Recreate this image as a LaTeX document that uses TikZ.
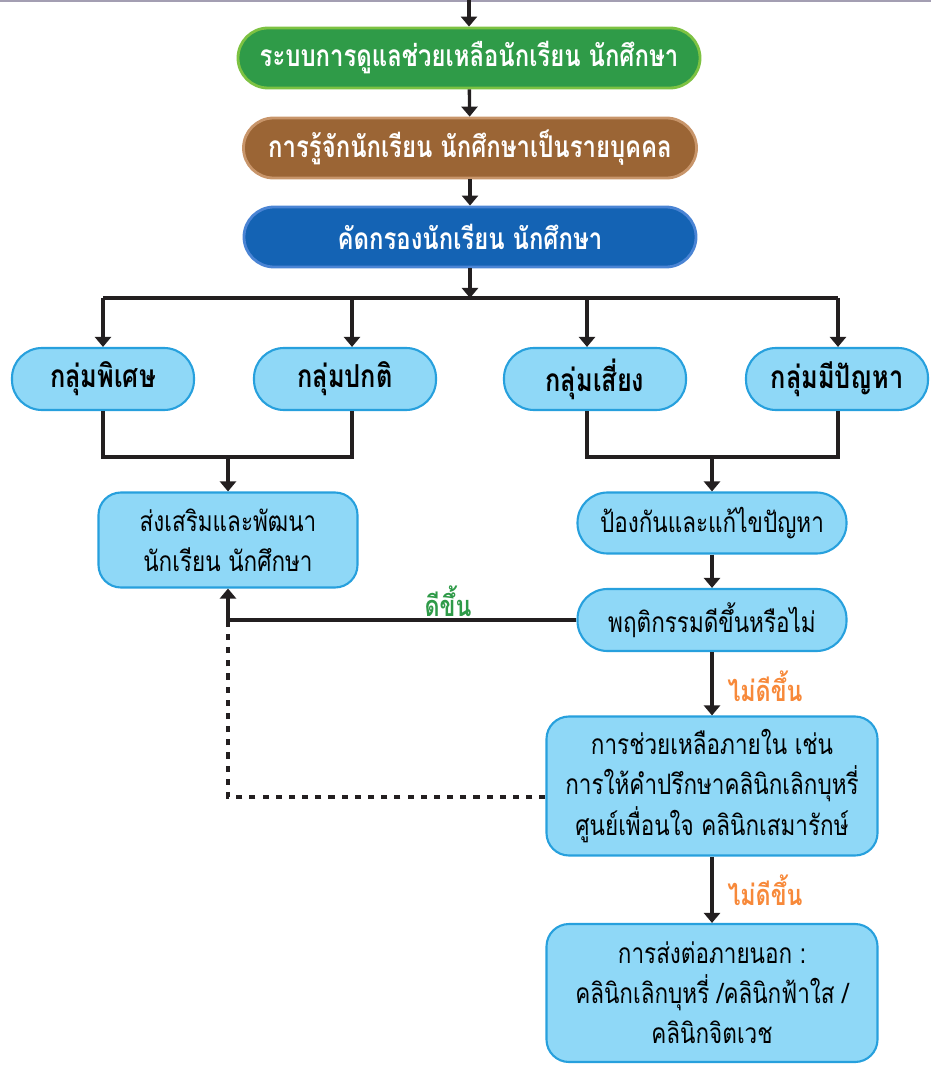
\documentclass[tikz,border=0pt]{standalone}
\usepackage{fontspec}
\newfontfamily\thaifont[Script=Thai, FakeStretch=0.8]{Loma}
\usetikzlibrary{arrows.meta, positioning}

\definecolor{sysgreen}{HTML}{2F9B48}
\definecolor{sysgreenrim}{HTML}{7DC242}
\definecolor{knowbrown}{HTML}{9B6535}
\definecolor{knowbrownrim}{HTML}{C8956A}
\definecolor{screenblue}{HTML}{1463B4}
\definecolor{screenbluerim}{HTML}{4A84D4}
\definecolor{boxfill}{HTML}{8FD8F7}
\definecolor{boxrim}{HTML}{27A0DD}
\definecolor{linkcol}{HTML}{231F20}
\definecolor{goodcol}{HTML}{2E9A48}
\definecolor{badcol}{HTML}{F7893A}
\definecolor{topcol}{HTML}{A39EB2}

\begin{document}
\begin{tikzpicture}[x=0.2mm, y=-0.2mm,
    every node/.style={font=\thaifont\fontsize{16}{22.8}\selectfont, align=center, inner sep=0pt, text=black},
    title/.style={draw, line width=1.6pt, rounded corners=6mm, minimum height=12mm,
        font=\thaifont\bfseries\fontsize{17}{23}\selectfont, text=white},
    pill/.style={draw=boxrim, fill=boxfill, line width=1.2pt, rounded corners=6mm, minimum height=12.2mm},
    group/.style={pill, minimum width=36.4mm, minimum height=12.4mm,
        font=\thaifont\bfseries\fontsize{18}{23}\selectfont},
    block/.style={draw=boxrim, fill=boxfill, line width=1.2pt, rounded corners=4.5mm},
    link/.style={draw=linkcol, line width=1.9pt},
    arr/.style={link, -{Triangle[width=3.2mm, length=2mm]}},
    verdict/.style={font=\thaifont\bfseries\fontsize{16.5}{22}\selectfont}]

    \useasboundingbox (0,0) rectangle (931,1067);
    \draw[topcol, line width=1pt] (0,1) -- (931,1);

    % main chain
    \coordinate (top) at (469,0);
    \node[title, draw=sysgreenrim, fill=sysgreen, minimum width=92.4mm] (sys) at (469,58) {ระบบการดูแลช่วยเหลือนักเรียน นักศึกษา};
    \node[title, draw=knowbrownrim, fill=knowbrown, minimum width=90.6mm] (know) at (470,148) {การรู้จักนักเรียน นักศึกษาเป็นรายบุคคล};
    \node[title, draw=screenbluerim, fill=screenblue, minimum width=90.4mm] (screen) at (470,237) {คัดกรองนักเรียน นักศึกษา};

    \draw[arr] (top) -- (sys);
    \draw[arr] (sys) -- (know);
    \draw[arr] (know) -- (screen);

    % four groups
    \node[group] (g1) at (103,379) {กลุ่มพิเศษ};
    \node[group] (g2) at (345,379) {กลุ่มปกติ};
    \node[group] (g3) at (595,379) {กลุ่มเสี่ยง};
    \node[group] (g4) at (837,379) {กลุ่มมีปัญหา};

    \coordinate (bus) at (470,298);
    \coordinate (b1) at (103,298);
    \coordinate (b2) at (352,298);
    \coordinate (b3) at (587,298);
    \coordinate (b4) at (838,298);
    \draw[arr] (screen) -- (bus);
    \draw[link] (b1) -- (b4);
    \draw[arr] (b1) -- (b1 |- g1.north);
    \draw[arr] (b2) -- (b2 |- g2.north);
    \draw[arr] (b3) -- (b3 |- g3.north);
    \draw[arr] (b4) -- (b4 |- g4.north);

    % outcomes
    \node[block, minimum width=51.8mm, minimum height=19mm] (promote) at (228,540) {ส่งเสริมและพัฒนา\\นักเรียน นักศึกษา};
    \node[pill, minimum width=53.8mm] (prevent) at (712,523) {ป้องกันและแก้ไขปัญหา};
    \node[pill, minimum width=53.8mm, minimum height=12.4mm] (behave) at (712,620) {พฤติกรรมดีขึ้นหรือไม่};
    \node[block, minimum width=66.2mm, minimum height=27.8mm] (help) at (712,786) {การช่วยเหลือภายใน เช่น\\การให้คำปรึกษาคลินิกเลิกบุหรี่\\ศูนย์เพื่อนใจ คลินิกเสมารักษ์};
    \node[block, minimum width=66.2mm, minimum height=27.6mm] (refer) at (712,993) {การส่งต่อภายนอก :\\คลินิกเลิกบุหรี่ /คลินิกฟ้าใส /\\คลินิกจิตเวช};

    \coordinate (jL) at (228,457);
    \coordinate (jR) at (712,457);
    \draw[link] (g1.south) |- (jL);
    \draw[link] (b2 |- g2.south) |- (jL);
    \draw[arr] (jL) -- (promote);
    \draw[link] (b3 |- g3.south) |- (jR);
    \draw[link] (b4 |- g4.south) |- (jR);
    \draw[arr] (jR) -- (prevent);
    \draw[arr] (prevent) -- (behave);

    % feedback
    \coordinate (back) at (promote.south |- behave.west);
    \draw[arr] (behave.west) -- (back) -- (promote.south);
    \node[verdict, text=goodcol] (good) at (448,601) {ดีขึ้น};
    \draw[link, dash pattern=on 3.5pt off 4pt] ([yshift=-2.2mm]help.west) -| (back);

    \draw[arr] (behave) -- (help);
    \node[verdict, text=badcol] (bad1) at (765,686) {ไม่ดีขึ้น};
    \draw[arr] (help) -- (refer);
    \node[verdict, text=badcol] (bad2) at (765,890) {ไม่ดีขึ้น};
\end{tikzpicture}
\end{document}
